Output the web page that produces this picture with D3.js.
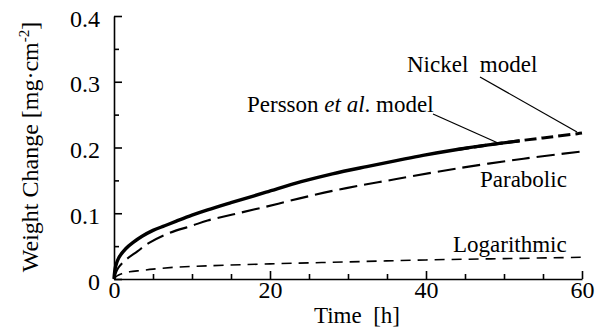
<!DOCTYPE html>
<html><head><meta charset="utf-8">
<script src="https://cdn.jsdelivr.net/npm/d3@7"></script>
<style>
html,body{margin:0;padding:0;background:#fff;}
</style></head>
<body><svg id="c" width="604" height="333"></svg>
<script>
// ---- data ----
const expTime  = [0,0.2,0.6,1.5,2.5,3.6,5,6.5,8,10,12,15,19.5,24,28,32.4,36.2,39.6,44,48,52];
const expValue = [0,0.019,0.032,0.046,0.056,0.065,0.074,0.081,0.088,0.097,0.105,0.116,0.132,0.148,0.160,0.171,0.180,0.188,0.197,0.204,0.210];
const nickelTime  = [44,48,52.5,56,59.4,60];
const nickelValue = [0.197,0.204,0.211,0.216,0.221,0.222];
const paraTime  = [0,0.5,1.5,3,4.5,7.1,10,12,15.2,19.5,23.8,28,32.4,36.2,43.9,52.5,60];
const paraValue = [0,0.016,0.029,0.042,0.055,0.070,0.081,0.089,0.098,0.110,0.1226,0.134,0.144,0.152,0.168,0.183,0.194];
const logTime  = [0,0.3,0.6,1,2,3.5,5,8,12,20,30,40,50,60];
const logValue = [0,0.004,0.006,0.008,0.011,0.013,0.015,0.018,0.020,0.023,0.026,0.029,0.031,0.033];
const xMajorTicks = [0,20,40,60];
const xMinorTicks = [5,10,15,25,30,35,45,50,55];
const yMajorTicks = [0,0.1,0.2,0.3,0.4];
const yMinorTicks = [0.05,0.15,0.25,0.35];
const yTickLabels = ["0","0.1","0.2","0.3","0.4"];

const FONT = "'Liberation Serif', 'Times New Roman', serif";
const svg = d3.select("#c");
const x = d3.scaleLinear().domain([0,60]).range([114,582]);
const y = d3.scaleLinear().domain([0,0.4]).range([279,16]);
const FS = 23;

const zip = (a,b)=>a.map((t,i)=>[t,b[i]]);
const line = d3.line().x(d=>x(d[0])).y(d=>y(d[1])).curve(d3.curveCatmullRom.alpha(0.5));

// axes (inward ticks)
const xAxis = d3.axisBottom(x).tickValues(xMajorTicks).tickSizeInner(-8).tickSizeOuter(0).tickFormat(d3.format("d")).tickPadding(14);
const gx = svg.append("g").attr("transform","translate(0,279)").call(xAxis);
const xMinor = d3.axisBottom(x).tickValues(xMinorTicks).tickSizeInner(-5).tickSizeOuter(0).tickFormat("");
svg.append("g").attr("transform","translate(0,279)").call(xMinor).select(".domain").remove();

const yAxis = d3.axisLeft(y).tickValues(yMajorTicks).tickSizeInner(-8).tickSizeOuter(0)
  .tickFormat((d,i)=>yTickLabels[i]).tickPadding(14);
const gy = svg.append("g").attr("transform","translate(114,0)").call(yAxis);
const yMinor = d3.axisLeft(y).tickValues(yMinorTicks).tickSizeInner(-5).tickSizeOuter(0).tickFormat("");
svg.append("g").attr("transform","translate(114,0)").call(yMinor).select(".domain").remove();
svg.selectAll("g").attr("font-family",null).attr("font-size",null);
gx.selectAll("text").attr("dy","0.2em").style("font-size","24px");
gy.selectAll("text").attr("dy","0.42em").style("font-size","24px");
svg.selectAll(".domain, .tick line").attr("stroke","#000").attr("stroke-width",1.6);

// curves
svg.append("path").datum(zip(logTime,logValue)).attr("d",line)
  .attr("fill","none").attr("stroke","#000").attr("stroke-width",1.6).attr("stroke-dasharray","10,7");
svg.append("path").datum(zip(paraTime,paraValue)).attr("d",line)
  .attr("fill","none").attr("stroke","#000").attr("stroke-width",2.1).attr("stroke-dasharray","18,7");
svg.append("path").datum(zip(nickelTime,nickelValue)).attr("d",line)
  .attr("fill","none").attr("stroke","#000").attr("stroke-width",3).attr("stroke-dasharray","12,5");
svg.append("path").datum(zip(expTime,expValue)).attr("d",line)
  .attr("fill","none").attr("stroke","#000").attr("stroke-width",3.4).attr("stroke-linejoin","round");

// labels
svg.append("text").attr("x",407).attr("y",72).attr("xml:space","preserve").text("Nickel  model");
const p = svg.append("text").attr("x",247).attr("y",112);
p.append("tspan").text("Persson ");
p.append("tspan").style("font-style","italic").text("et al");
p.append("tspan").text(". model");
svg.append("text").attr("x",480).attr("y",187).text("Parabolic");
svg.append("text").attr("x",453).attr("y",252).text("Logarithmic");

// leader lines
svg.append("line").attr("x1",480).attr("y1",77).attr("x2",577).attr("y2",132).attr("stroke","#000").attr("stroke-width",1.3);
svg.append("line").attr("x1",433).attr("y1",114).attr("x2",498).attr("y2",143).attr("stroke","#000").attr("stroke-width",1.3);

// axis titles
svg.append("text").attr("x",357).attr("y",323).attr("text-anchor","middle")
  .attr("xml:space","preserve").text("Time  [h]");
const yl = svg.append("text").attr("transform","translate(38,147) rotate(-90)").attr("text-anchor","middle").style("font-size","24px");
yl.append("tspan").text("Weight Change [mg·cm");
yl.append("tspan").style("font-size","15px").attr("dy",-9).text("-2");
yl.append("tspan").attr("dy",9).text("]");

svg.selectAll("text").style("font-family",FONT).style("fill","#000");
svg.selectAll("text").filter(function(){return !this.style.fontSize;}).style("font-size",FS+"px");
</script></body></html>
